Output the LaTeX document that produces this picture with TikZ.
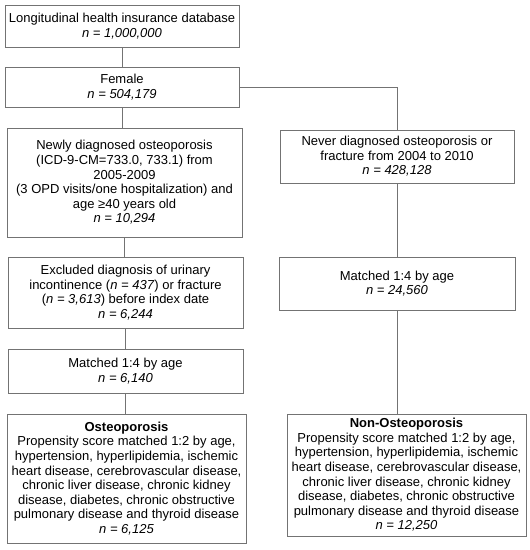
\documentclass[tikz,border=0pt]{standalone}
\usepackage{fontspec}
\setmainfont{Liberation Sans}
\definecolor{edgegray}{gray}{0.45}
\begin{document}
\begin{tikzpicture}[x=1pt, y=-1pt,
  flowbox/.style={draw=edgegray, line width=0.8pt, align=center, inner sep=1pt,
    font=\fontsize{13}{14.6}\selectfont},
  link/.style={draw=edgegray, line width=0.8pt}]
\useasboundingbox (0,0) rectangle (530,550);
\node[flowbox, minimum width=234pt, minimum height=42pt] (db) at (122,26) {Longitudinal health insurance database\\\textit{n = 1,000,000}};
\node[flowbox, minimum width=234pt, minimum height=40pt] (female) at (122,87) {Female\\\textit{n = 504,179}};
\node[flowbox, minimum width=235pt, minimum height=109pt] (newdx) at (124.5,182.5) {Newly diagnosed osteoporosis\\(ICD-9-CM=733.0, 733.1) from\\2005-2009\\(3 OPD visits/one hospitalization) and\\age ≥40 years old\\\textit{n = 10,294}};
\node[flowbox, minimum width=235pt, minimum height=71pt] (excl) at (125.5,292.5) {Excluded diagnosis of urinary\\incontinence (\textit{n = 437}) or fracture\\(\textit{n = 3,613}) before index date\\\textit{n = 6,244}};
\node[flowbox, minimum width=235pt, minimum height=44pt] (matchL) at (125.5,371) {Matched 1:4 by age\\\textit{n = 6,140}};
\node[flowbox, minimum width=239pt, minimum height=129pt] (osteo) at (126.5,478.5) {\textbf{Osteoporosis}\\Propensity score matched 1:2 by age,\\hypertension, hyperlipidemia, ischemic\\heart disease, cerebrovascular disease,\\chronic liver disease, chronic kidney\\disease, diabetes, chronic obstructive\\pulmonary disease and thyroid disease\\\textit{n = 6,125}};
\node[flowbox, minimum width=234pt, minimum height=53pt] (never) at (397,156.5) {Never diagnosed osteoporosis or\\fracture from 2004 to 2010\\\textit{n = 428,128}};
\node[flowbox, minimum width=236pt, minimum height=53pt] (matchR) at (397,283.5) {Matched 1:4 by age\\\textit{n = 24,560}};
\node[flowbox, minimum width=239pt, minimum height=122pt] (nonosteo) at (406.5,475) {\textbf{Non-Osteoporosis}\\Propensity score matched 1:2 by age,\\hypertension, hyperlipidemia, ischemic\\heart disease, cerebrovascular disease,\\chronic liver disease, chronic kidney\\disease, diabetes, chronic obstructive\\pulmonary disease and thyroid disease\\\textit{n = 12,250}};
\draw[link] (db) -- (female);
\draw[link] (female) -- (female |- newdx.north);
\draw[link] (newdx.south) -- (newdx.south |- excl.north);
\draw[link] (excl.south) -- (excl.south |- matchL.north);
\draw[link] (matchL.south) -- (matchL.south |- osteo.north);
\draw[link] (female.east) -| (never.north);
\draw[link] (never.south) -- (never.south |- matchR.north);
\draw[link] (matchR.south) -- (matchR.south |- nonosteo.north);
\end{tikzpicture}
\end{document}
